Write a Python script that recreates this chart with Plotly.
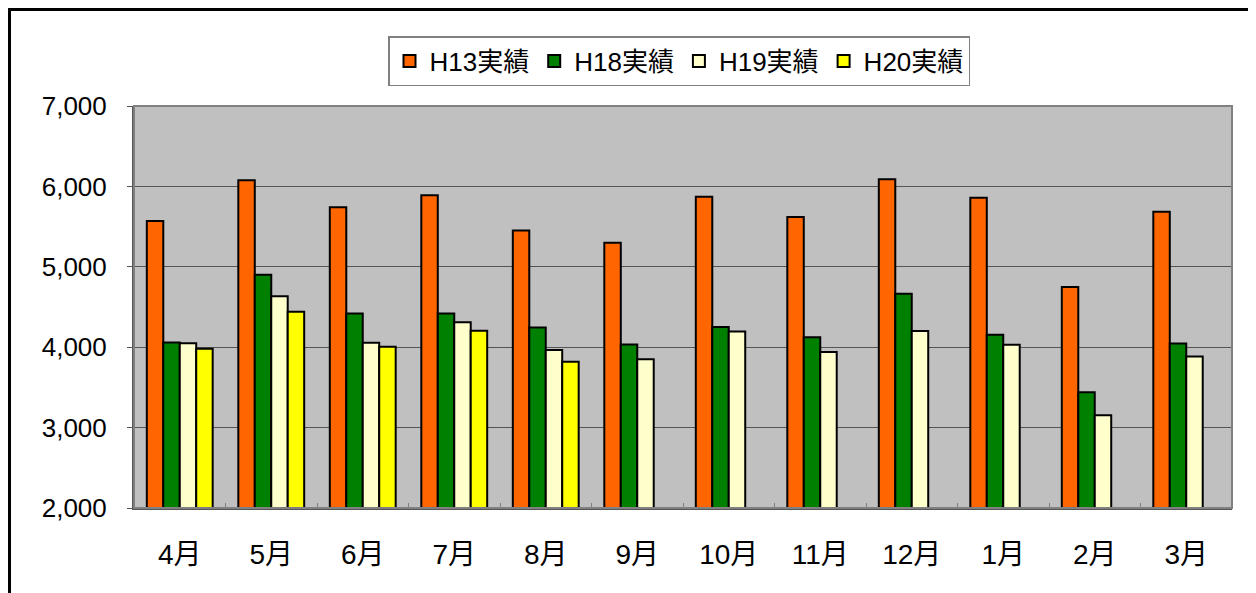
import plotly.graph_objects as go

months = ["4月", "5月", "6月", "7月", "8月", "9月", "10月", "11月", "12月", "1月", "2月", "3月"]
h13 = [5570, 6075, 5740, 5890, 5450, 5300, 5870, 5620, 6090, 5860, 4750, 5685]
h18 = [4060, 4900, 4420, 4420, 4245, 4035, 4250, 4125, 4665, 4155, 3440, 4045]
h19 = [4050, 4635, 4055, 4310, 3965, 3850, 4195, 3940, 4200, 4030, 3155, 3885]
h20 = [3980, 4440, 4005, 4205, 3820, None, None, None, None, None, None, None]

series = [
    ("H13実績", h13, "#FF6600"),
    ("H18実績", h18, "#008000"),
    ("H19実績", h19, "#FFFFCC"),
    ("H20実績", h20, "#FFFF00"),
]

FONT = "Liberation Sans, Arial, Noto Sans CJK JP, sans-serif"

fig = go.Figure()
for name, vals, color in series:
    fig.add_trace(go.Bar(
        name=name, x=months, y=vals,
        marker=dict(color=color, line=dict(color="black", width=2)),
    ))

# page body has an 8px margin; compensate so absolute positions match
OFF = 8
W, H = 1256 - OFF, 593 - OFF
L = 134 - OFF
T = 106 - OFF
R = W - (1232 - OFF)
B = H - (508 - OFF)
pw = W - L - R
ph = H - T - B

fig.update_layout(
    width=W, height=H,
    margin=dict(l=L, r=R, t=T, b=B),
    paper_bgcolor="white",
    plot_bgcolor="#C0C0C0",
    barmode="group",
    bargap=0.28,
    bargroupgap=0,
    font=dict(family=FONT, color="black"),
    legend=dict(
        orientation="h",
        x=(388 - OFF - L) / pw, xanchor="left",
        y=1 + (T - (36 - OFF)) / ph, yanchor="top",
        bgcolor="white",
        bordercolor="#808080", borderwidth=1.5,
        font=dict(size=26, family=FONT),
        itemwidth=30,
        traceorder="normal",
    ),
    xaxis=dict(
        type="category",
        tickfont=dict(size=28, family=FONT),
        ticks="inside", tickson="boundaries", ticklen=5, tickcolor="#808080",
        showline=True, linecolor="#555555", linewidth=2,
        ticklabelstandoff=20,
    ),
    yaxis=dict(
        range=[2000, 7000],
        dtick=1000,
        tickformat=",d",
        tickfont=dict(size=26, family=FONT),
        gridcolor="#555555", gridwidth=1,
        ticks="outside", ticklen=5, tickcolor="#555555",
        showline=True, linecolor="#555555", linewidth=2,
        ticklabelstandoff=15,
    ),
    shapes=[
        dict(type="rect", xref="paper", yref="paper",
             x0=0, x1=1, y0=0, y1=1,
             line=dict(color="#808080", width=2), layer="above"),
        dict(type="rect", xref="paper", yref="paper",
             x0=(1.5 - L) / pw, x1=(W + 20 - L) / pw,
             y0=-(B + 20) / ph, y1=1 + (T - 1.5) / ph,
             line=dict(color="black", width=3)),
    ],
)

fig.write_html("out.html")
